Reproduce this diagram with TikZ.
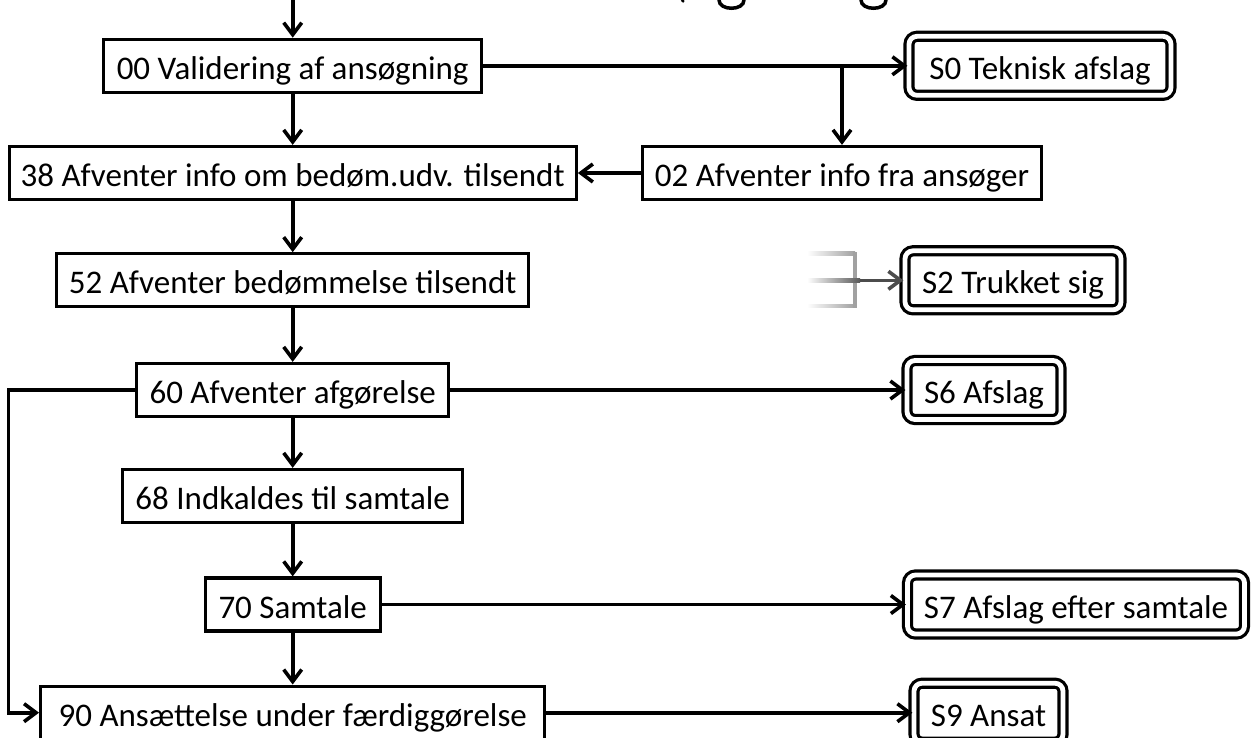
\documentclass[tikz,border=0pt]{standalone}
\usepackage{fontspec}
\setmainfont{Carlito}
\usetikzlibrary{arrows.meta}
\begin{document}
\begin{tikzpicture}[x=1pt,y=-1pt,
  every node/.style={font=\fontsize{33}{39}\selectfont, inner sep=0pt, text height=33pt, text depth=6pt},
  box/.style={draw, line width=3.3pt, minimum height=53pt},
  endbox/.style={draw, line width=3.2pt, double, double distance=4.8pt, rounded corners=8pt, minimum height=59pt},
  arr/.style={line width=3.6pt, -{Straight Barb[length=12pt,width=18pt]}},
  titlefrag/.style={line width=3.5pt, line cap=round}]
\useasboundingbox (0,0) rectangle (1251,737);

% fragments of the cropped title
\draw[titlefrag] (719,0) .. controls (719,11) and (744,11) .. (744,0);
\draw[titlefrag] (861,0) .. controls (861,11) and (886,11) .. (886,0);
\draw[line width=3pt] (683.5,0) -- (682,1.8);

% nodes
\node[box, minimum width=378pt] (n00) at (292.7,65.8) {00 Validering af ansøgning};
\node[endbox, minimum width=262pt] (s0) at (1040,65.8) {S0 Teknisk afslag};
\node[box, minimum width=567pt] (n38) at (292.7,173) {38 Afventer info om bedøm.udv. tilsendt};
\node[box, minimum width=399pt] (n02) at (842,173) {02 Afventer info fra ansøger};
\node[box, minimum width=472pt] (n52) at (292.7,280.3) {52 Afventer bedømmelse tilsendt};
\node[endbox, minimum width=216pt] (s2) at (1013,280.3) {S2 Trukket sig};
\node[box, minimum width=312pt] (n60) at (292.7,390) {60 Afventer afgørelse};
\node[endbox, minimum width=154pt] (s6) at (984,390) {S6 Afslag};
\node[box, minimum width=340pt] (n68) at (292.7,496) {68 Indkaldes til samtale};
\node[box, minimum width=175pt] (n70) at (292.7,604.5) {70 Samtale};
\node[endbox, minimum width=337pt] (s7) at (1076,604.5) {S7 Afslag efter samtale};
\node[box, minimum width=504pt] (n90) at (292.7,712.7) {90 Ansættelse under færdiggørelse};
\node[endbox, minimum width=149pt] (s9) at (988.5,712.7) {S9 Ansat};

% connectors
\coordinate (entry) at (292.7,0);
\draw[arr] (entry) -- (n00.north);
\draw[arr] (n00.east) -- (s0.west);
\draw[arr] (n00.east -| n02.north) -- (n02.north);
\draw[arr] (n02.west) -- (n38.east);
\draw[arr] (n00.south) -- (n38.north);
\draw[arr] (n38.south) -- (n52.north);
\draw[arr] (n52.south) -- (n60.north);
\draw[arr] (n60.east) -- (s6.west);
\draw[arr] (n60.south) -- (n68.north);
\draw[arr] (n68.south) -- (n70.north);
\draw[arr] (n70.east) -- (s7.west);
\draw[arr] (n70.south) -- (n90.north);
\draw[arr] (n90.east) -- (s9.west);
\coordinate (fb) at (8.3,390);
\draw[arr] (n60.west) -- (fb) |- (n90.west);

% faded connectors into S2
\shade[left color=white, right color=black!37] (807,251.6) rectangle (855,255);
\shade[left color=white, right color=black!37] (807,304.3) rectangle (855,307.7);
\fill[black!37] (853.3,251.6) rectangle (856.7,307.7);
\shade[left color=white, right color=black!65] (807,278.5) rectangle (860,282.1);
\coordinate (fadeend) at (860,280.3);
\draw[arr, black!70] (fadeend) -- (s2.west);
\end{tikzpicture}
\end{document}
